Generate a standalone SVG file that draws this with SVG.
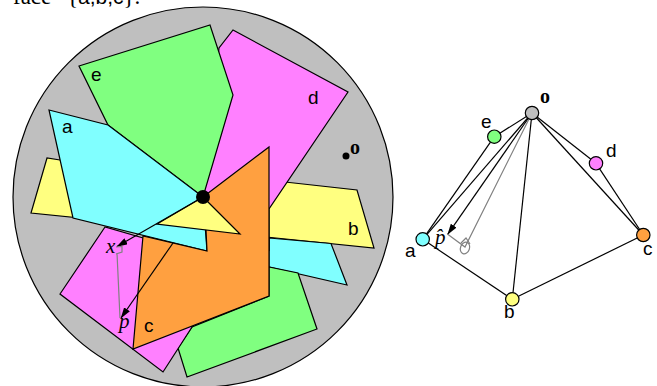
<svg xmlns="http://www.w3.org/2000/svg" width="657" height="386" viewBox="0 0 657 386">
<style>
.f{stroke:#000;stroke-width:1.2;stroke-linejoin:miter}
.l{fill:none;stroke:#000;stroke-width:1.2}
.g{fill:none;stroke:#808080;stroke-width:1.2}
.s{font-family:"Liberation Sans",Arial,sans-serif;font-size:19px;fill:#000}
.i{font-family:"Liberation Serif","Times New Roman",serif;font-size:21px;font-style:italic;fill:#000}
.b{font-family:"Liberation Serif","Times New Roman",serif;font-size:20px;font-weight:bold;fill:#000}
.n{stroke:#000;stroke-width:1.2}
.t{font-family:"Liberation Serif","Times New Roman",serif;font-size:23px;fill:#000}
</style>
<defs>
<marker id="ah" markerWidth="11" markerHeight="7" refX="10.5" refY="3.5" orient="auto" markerUnits="userSpaceOnUse"><path d="M0,0 L11,3.500 L0,7 Z" fill="#000"/></marker>
</defs>
<text class="t" x="13" y="4">face</text>
<text class="t" x="67" y="4">{<tspan font-family="Liberation Sans,sans-serif" font-size="21">a,b,c</tspan>}.</text>
<g id="disk">
<circle cx="203" cy="197" r="190" fill="#bfbfbf" stroke="#000" stroke-width="1.2"/>
</g>
<g id="face-b"><polygon class="f" fill="#ffff80" points="47,158 31,213 374,248 357,190 285,182 203,197 60,160"/><text class="s" x="348" y="235">b</text></g>
<g id="face-a2"><polygon class="f" fill="#80ffff" points="269,238 331,243.500 347,285 269,267"/></g>
<g id="face-e2"><polygon class="f" fill="#80ff80" points="178,348 187,377 317,329 298,273 269,267 269,296 192,327"/></g>
<g id="face-d2"><polygon class="f" fill="#ff80ff" points="105,227 60,294 163,372 192,327 150,240"/></g>
<g id="face-d"><polygon class="f" fill="#ff80ff" points="233,30 348,92 269,209 269,250 203,197 219,48"/><text class="s" x="308" y="104">d</text></g>
<g id="face-e"><polygon class="f" fill="#80ff80" points="79,66 210,25 233,95 203,197 108,125"/><text class="s" x="91" y="81">e</text></g>
<g id="face-a"><polygon class="f" fill="#80ffff" points="49,110 108,125 203,197 207,251 73,218"/><text class="s" x="62" y="133">a</text></g>
<g id="face-c"><polygon class="f" fill="#ffa040" points="203,197 269,147 269,296 133,349 143,236 207,251 206,230"/><text class="s" x="144" y="332">c</text></g>
<g id="face-b2"><polygon class="f" fill="#ffff80" points="203,197 240,234 157,224"/></g>
<g id="connectors">
<line class="l" x1="203" y1="197" x2="117" y2="246.500" marker-end="url(#ah)"/>
<line class="l" x1="173" y1="243" x2="121" y2="318" marker-end="url(#ah)"/>
<path class="g" d="M117,253 L120,318 M116,247 L122,246.500 L122,252 L116,254"/>
<line class="l" x1="532" y1="113" x2="494.300" y2="136.700"/>
<line class="l" x1="494.300" y1="136.700" x2="422.700" y2="239.300"/>
<line class="l" x1="532" y1="113" x2="422.700" y2="239.300"/>
<line class="l" x1="532" y1="113" x2="596" y2="163.300"/>
<line class="l" x1="596" y1="163.300" x2="643.300" y2="235"/>
<line class="l" x1="532" y1="113" x2="643.300" y2="235"/>
<line class="l" x1="532" y1="113" x2="512.300" y2="299.300"/>
<line class="l" x1="422.700" y1="239.300" x2="512.300" y2="299.300"/>
<line class="l" x1="512.300" y1="299.300" x2="643.300" y2="235"/>
<line class="l" x1="532" y1="113" x2="447.700" y2="234.300" marker-end="url(#ah)"/>
<path class="g" d="M532,113 L465,247 L447.700,234.300 M461,243 L466,238 L470,244"/>
<ellipse class="g" cx="465" cy="248" rx="4.500" ry="6" transform="rotate(20 465 248)"/>
</g>
<g id="point-center"><circle cx="203" cy="197" r="7" fill="#000"/></g>
<g id="point-o"><circle cx="346" cy="156" r="3.500" fill="#000"/><text class="b" x="350" y="154">o</text></g>
<text class="i" x="106" y="253">x</text>
<text class="i" x="119" y="328">p</text>
<g id="node-o"><circle class="n" cx="532" cy="113" r="6.700" fill="#bfbfbf"/><text class="b" x="540" y="103">o</text></g>
<g id="node-e"><circle class="n" cx="494.300" cy="136.700" r="6.700" fill="#80ff80"/><text class="s" x="481" y="128">e</text></g>
<g id="node-d"><circle class="n" cx="596" cy="163.300" r="6.700" fill="#ff80ff"/><text class="s" x="606" y="157">d</text></g>
<g id="node-a"><circle class="n" cx="422.700" cy="239.300" r="6.700" fill="#80ffff"/><text class="s" x="405" y="257">a</text></g>
<g id="node-b"><circle class="n" cx="512.300" cy="299.300" r="6.700" fill="#ffff80"/><text class="s" x="504" y="318">b</text></g>
<g id="node-c"><circle class="n" cx="643.300" cy="235" r="6.700" fill="#ffa040"/><text class="s" x="643" y="255">c</text></g>
<text class="i" x="435" y="244">p̂</text>
</svg>
